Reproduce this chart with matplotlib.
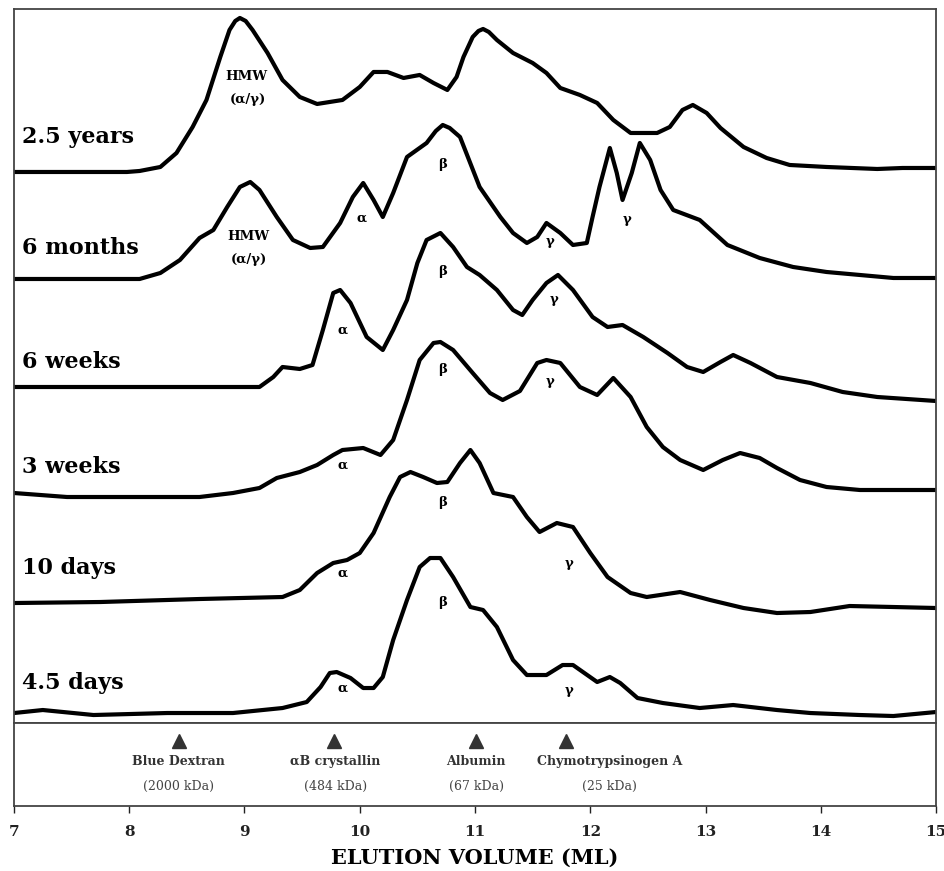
import matplotlib.pyplot as plt

# elution volume (ml) / absorbance height (a.u.)
vol_25y = [7.0, 7.98, 8.09, 8.27, 8.41, 8.55, 8.67, 8.79, 8.87, 8.92, 8.96, 9.01, 9.07, 9.20, 9.33,
           9.48, 9.63, 9.85, 10.0, 10.12, 10.24, 10.38, 10.52, 10.64, 10.76, 10.84, 10.90, 10.98,
           11.03, 11.07, 11.12, 11.19, 11.33, 11.50, 11.62, 11.74, 11.91, 12.06, 12.20, 12.35, 12.58,
           12.69, 12.80, 12.89, 13.01, 13.13, 13.33, 13.53, 13.73, 14.05, 14.49, 14.71, 15.0]
abs_25y = [0, 0, 1, 5, 19, 45, 72, 115, 142, 151, 154, 151, 142, 119, 92,
           75, 68, 72, 85, 100, 100, 94, 97, 89, 82, 95, 115, 135,
           141, 143, 140, 132, 119, 109, 99, 84, 77, 69, 52, 39, 39,
           45, 62, 67, 59, 44, 25, 14, 7, 5, 3, 4, 4]

vol_6m = [7.0, 8.09, 8.27, 8.44, 8.61, 8.73, 8.85, 8.96, 9.05, 9.13, 9.28, 9.42, 9.57, 9.68, 9.83,
          9.94, 10.03, 10.12, 10.20, 10.29, 10.41, 10.58, 10.66, 10.72, 10.78, 10.87, 11.04, 11.22,
          11.33, 11.45, 11.54, 11.62, 11.74, 11.85, 11.97, 12.02, 12.08, 12.17, 12.23, 12.28, 12.36,
          12.43, 12.52, 12.61, 12.72, 12.95, 13.19, 13.47, 13.76, 14.05, 14.34, 14.63, 15.0]
abs_6m = [0, 0, 6, 19, 41, 49, 72, 92, 97, 89, 62, 39, 31, 32, 56,
          82, 96, 79, 62, 86, 122, 136, 148, 154, 151, 142, 92, 62,
          46, 36, 42, 56, 46, 34, 36, 62, 92, 131, 106, 79, 106,
          136, 119, 89, 69, 59, 34, 21, 12, 7, 4, 1, 1]

vol_6w = [7.0, 9.13, 9.25, 9.33, 9.48, 9.59, 9.68, 9.77, 9.83, 9.92, 10.06, 10.20, 10.29, 10.41,
          10.50, 10.58, 10.70, 10.81, 10.93, 11.04, 11.19, 11.33, 11.41, 11.50, 11.62, 11.72, 11.85,
          12.02, 12.15, 12.28, 12.46, 12.67, 12.84, 12.98, 13.13, 13.24, 13.39, 13.62, 13.91, 14.19,
          14.49, 15.0]
abs_6w = [0, 0, 10, 20, 18, 22, 57, 94, 97, 84, 50, 37, 57, 87,
          124, 147, 154, 140, 120, 112, 97, 77, 72, 87, 104, 112, 97,
          70, 60, 62, 50, 34, 20, 15, 25, 32, 24, 10, 4, -5,
          -10, -14]

vol_3w = [7.0, 7.46, 8.61, 8.90, 9.13, 9.28, 9.48, 9.63, 9.77, 9.85, 10.03, 10.18, 10.29, 10.41,
          10.52, 10.64, 10.70, 10.81, 10.98, 11.13, 11.24, 11.39, 11.54, 11.62, 11.74, 11.91, 12.06,
          12.20, 12.35, 12.49, 12.63, 12.78, 12.98, 13.15, 13.30, 13.47, 13.62, 13.82, 14.05, 14.34,
          15.0]
abs_3w = [2, -2, -2, 2, 7, 17, 23, 30, 40, 45, 47, 40, 55, 95,
          135, 152, 153, 145, 122, 102, 95, 104, 132, 135, 132, 108, 100,
          117, 98, 68, 48, 35, 25, 35, 42, 37, 27, 15, 8, 5,
          5]

vol_10d = [7.0, 7.75, 8.61, 9.33, 9.48, 9.63, 9.77, 9.89, 10.0, 10.12, 10.26, 10.35, 10.44, 10.55,
           10.67, 10.76, 10.87, 10.96, 11.04, 11.16, 11.33, 11.45, 11.56, 11.71, 11.85, 12.0, 12.15,
           12.35, 12.49, 12.78, 13.04, 13.33, 13.62, 13.91, 14.25, 14.63, 15.0]
abs_10d = [0, 1, 4, 6, 13, 30, 40, 43, 50, 70, 106, 126, 131, 126,
           120, 121, 140, 153, 140, 110, 106, 86, 71, 80, 76, 50, 26,
           10, 6, 11, 3, -5, -10, -9, -3, -4, -5]

vol_45d = [7.0, 7.25, 7.69, 8.33, 8.90, 9.33, 9.54, 9.66, 9.74, 9.80, 9.92, 10.03, 10.12, 10.20,
           10.29, 10.41, 10.52, 10.61, 10.70, 10.81, 10.96, 11.07, 11.19, 11.33, 11.45, 11.62, 11.76,
           11.85, 12.06, 12.17, 12.26, 12.41, 12.63, 12.95, 13.24, 13.62, 13.91, 14.34, 14.63, 15.0]
abs_45d = [0, 3, -2, 0, 0, 5, 11, 26, 40, 41, 35, 25, 25, 36,
           73, 113, 146, 155, 155, 136, 106, 103, 86, 53, 38, 38, 48,
           48, 31, 36, 30, 15, 10, 5, 8, 3, 0, -2, -3, 1]

ages = ['2.5 years', '6 months', '6 weeks', '3 weeks', '10 days', '4.5 days']
vols = [vol_25y, vol_6m, vol_6w, vol_3w, vol_10d, vol_45d]
absorb = [abs_25y, abs_6m, abs_6w, abs_3w, abs_10d, abs_45d]

# peak labels: (text, volume, height on the stacked axis)
peak_labels = [('HMW', 9.02, 646), ('(α/γ)', 9.03, 623),
               ('HMW', 9.03, 486), ('(α/γ)', 9.04, 463), ('α', 10.02, 505), ('β', 10.72, 558),
               ('γ', 11.65, 481), ('γ', 12.32, 503),
               ('α', 9.85, 393), ('β', 10.72, 451), ('γ', 11.69, 423),
               ('α', 9.85, 258), ('β', 10.72, 353), ('γ', 11.65, 341),
               ('α', 9.85, 150), ('β', 10.72, 221), ('γ', 11.82, 160),
               ('α', 9.85, 35), ('β', 10.72, 121), ('γ', 11.82, 33)]

# size standards
std_names = ['Blue Dextran', 'αB crystallin', 'Albumin', 'Chymotrypsinogen A']
std_kda = ['(2000 kDa)', '(484 kDa)', '(67 kDa)', '(25 kDa)']
std_vol = [8.43, 9.78, 11.01, 11.79]
std_text_x = [8.43, 9.79, 11.01, 12.17]

offsets = [551, 444, 336, 228, 120, 10]
label_y = [586, 475, 361, 256, 155, 40]

plt.rcParams['font.family'] = ['DejaVu Serif']
fig = plt.figure(figsize=(9.45, 8.71), dpi=100)
ax = fig.add_axes([0.0148, 0.1699, 0.9757, 0.8198])
ax2 = fig.add_axes([0.0148, 0.0746, 0.9757, 0.0953], sharex=ax)

for name, v, a, off, ly in zip(ages, vols, absorb, offsets, label_y):
    ax.plot(v, [h + off for h in a], color='black', lw=3.0,
            solid_joinstyle='round', solid_capstyle='round')
    ax.text(7.07, ly, name, fontsize=16, fontweight='bold', ha='left', va='center')

for txt, x, y in peak_labels:
    ax.text(x, y, txt, fontsize=9.5, fontweight='bold', ha='center', va='center')

ax.set_xlim(7, 15)
ax.set_ylim(0, 714)
ax.set_yticks([])
ax.tick_params(axis='x', bottom=False, labelbottom=False)
for s in ax.spines.values():
    s.set_color('#444444')
    s.set_linewidth(1.3)

ax2.plot(std_vol, [0.78] * len(std_vol), linestyle='none', marker='^', markersize=10, color='#333333')
for nm, kd, x in zip(std_names, std_kda, std_text_x):
    ax2.text(x, 0.54, nm, fontsize=9, fontweight='bold', ha='center', va='center', color='#333333')
    ax2.text(x, 0.23, kd, fontsize=9, ha='center', va='center', color='#444444')
ax2.set_ylim(0, 1)
ax2.set_yticks([])
ax2.set_xticks(range(7, 16))
ax2.tick_params(axis='x', direction='out', length=5, width=1, pad=9, labelsize=11, colors='#222222')
for lab in ax2.get_xticklabels():
    lab.set_fontweight('bold')
for s in ax2.spines.values():
    s.set_color('#444444')
    s.set_linewidth(1.3)
ax2.set_xlabel('ELUTION VOLUME (ML)', fontsize=15, fontweight='bold', labelpad=6)

fig.savefig('out.png', dpi=100, facecolor='white')
